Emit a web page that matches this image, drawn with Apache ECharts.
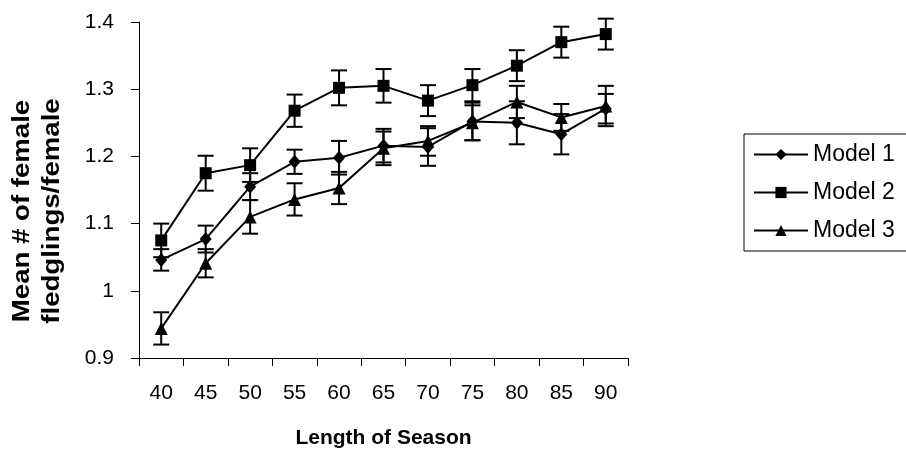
<!DOCTYPE html>
<html>
<head>
<meta charset="utf-8">
<script src="https://cdn.jsdelivr.net/npm/echarts@6/dist/echarts.min.js"></script>
<style>
  html, body { margin: 0; padding: 0; background: #fff; }
  #main { width: 906px; height: 462px; }
</style>
</head>
<body>
<div id="main"></div>
<script>
// 横轴类别
var seasons = ['40', '45', '50', '55', '60', '65', '70', '75', '80', '85', '90'];

// 三个模型的均值
var model1 = [1.046, 1.077, 1.155, 1.192, 1.198, 1.216, 1.214, 1.252, 1.250, 1.233, 1.271];
var model2 = [1.075, 1.175, 1.187, 1.268, 1.302, 1.305, 1.283, 1.306, 1.335, 1.370, 1.382];
var model3 = [0.944, 1.041, 1.110, 1.136, 1.153, 1.212, 1.223, 1.250, 1.281, 1.258, 1.275];

// 误差（上下对称）
var err1 = [0.016, 0.020, 0.020, 0.018, 0.025, 0.025, 0.028, 0.028, 0.032, 0.030, 0.022];
var err2 = [0.025, 0.026, 0.025, 0.024, 0.026, 0.025, 0.023, 0.024, 0.023, 0.023, 0.023];
var err3 = [0.024, 0.021, 0.025, 0.024, 0.024, 0.025, 0.022, 0.026, 0.024, 0.020, 0.030];

var yTicks = [0.9, 1.0, 1.1, 1.2, 1.3, 1.4];

var font = 'Liberation Sans';

function errData(vals, errs) {
    return vals.map(function (v, i) {
        return [i, v - errs[i], v + errs[i]];
    });
}

// 画误差线
function renderErr(params, api) {
    var lo = api.coord([api.value(0), api.value(1)]);
    var hi = api.coord([api.value(0), api.value(2)]);
    var w = 8;
    var st = { stroke: '#000', lineWidth: 2 };
    return {
        type: 'group',
        children: [
            { type: 'line', shape: { x1: hi[0], y1: hi[1], x2: lo[0], y2: lo[1] }, style: st },
            { type: 'line', shape: { x1: hi[0] - w, y1: hi[1], x2: hi[0] + w, y2: hi[1] }, style: st },
            { type: 'line', shape: { x1: lo[0] - w, y1: lo[1], x2: lo[0] + w, y2: lo[1] }, style: st }
        ]
    };
}

function errSeries(vals, errs) {
    return {
        type: 'custom',
        renderItem: renderErr,
        data: errData(vals, errs),
        encode: { x: 0, y: [1, 2] },
        silent: true,
        z: 1
    };
}

function lineSeries(name, vals, symbol, size) {
    return {
        name: name,
        type: 'line',
        data: vals,
        symbol: symbol,
        symbolSize: size,
        showAllSymbol: true,
        lineStyle: { color: '#000', width: 2 },
        itemStyle: { color: '#000' },
        z: 3
    };
}

var myChart = echarts.init(document.getElementById('main'));

var option = {
    animation: false,
    backgroundColor: '#fff',
    grid: { left: 139, right: 278, top: 22, bottom: 104 },
    legend: {
        data: ['Model 1', 'Model 2', 'Model 3'],
        orient: 'vertical',
        left: 753,
        top: 143,
        padding: 0,
        itemWidth: 54,
        itemHeight: 14,
        itemGap: 15,
        textStyle: { fontFamily: font, fontSize: 23, color: '#000', lineHeight: 22 }
    },
    graphic: [
        {
            type: 'rect',
            shape: { x: 744, y: 134, width: 200, height: 117 },
            style: { fill: 'none', stroke: '#000', lineWidth: 1 },
            z: -1
        },
        {
            type: 'text',
            x: 38,
            y: 211,
            rotation: Math.PI / 2,
            scaleX: 1.2,
            style: {
                text: 'Mean # of female\nfledglings/female',
                font: 'bold 23px ' + font,
                fill: '#000',
                align: 'center',
                verticalAlign: 'middle',
                lineHeight: 30
            }
        }
    ],
    xAxis: {
        type: 'category',
        data: seasons,
        boundaryGap: true,
        name: 'Length of Season',
        nameLocation: 'middle',
        nameGap: 70,
        nameTextStyle: { fontFamily: font, fontSize: 21, fontWeight: 'bold', color: '#000' },
        axisLine: { lineStyle: { color: '#000', width: 1 } },
        axisTick: { show: true, length: 8, lineStyle: { color: '#000' } },
        axisLabel: { fontFamily: font, fontSize: 21, color: '#000', margin: 25 },
        splitLine: { show: false }
    },
    yAxis: {
        type: 'value',
        min: yTicks[0],
        max: yTicks[yTicks.length - 1],
        interval: 0.1,
        axisLine: { show: true, lineStyle: { color: '#000', width: 1 } },
        axisTick: { show: true, length: 8, lineStyle: { color: '#000' } },
        axisLabel: {
            fontFamily: font, fontSize: 21, color: '#000', margin: 25,
            formatter: function (v) { return String(Math.round(v * 10) / 10); }
        },
        splitLine: { show: false }
    },
    series: [
        errSeries(model1, err1),
        errSeries(model2, err2),
        errSeries(model3, err3),
        lineSeries('Model 1', model1, 'diamond', [12, 14]),
        lineSeries('Model 2', model2, 'rect', 12),
        lineSeries('Model 3', model3, 'triangle', 13)
    ]
};

myChart.setOption(option);
</script>
</body>
</html>
